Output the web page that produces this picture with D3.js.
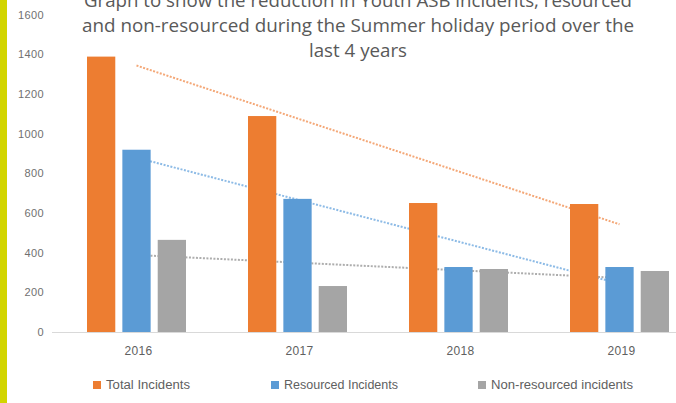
<!DOCTYPE html>
<html><head><meta charset="utf-8">
<script src="https://cdn.jsdelivr.net/npm/d3@7"></script>
<style>body{margin:0;background:#fff;}svg{display:block;}</style>
</head><body>
<svg id="c" width="676" height="403"></svg>
<script>
const years = ["2016", "2017", "2018", "2019"];
const seriesNames = ["Total Incidents", "Resourced Incidents", "Non-resourced incidents"];
const totalIncidents = [1390, 1090, 651, 646];
const resourcedIncidents = [920, 672, 328, 328];
const nonResourcedIncidents = [465, 232, 318, 308];
const yTicks = [0, 200, 400, 600, 800, 1000, 1200, 1400, 1600];
const titleLines = [
  "Graph to show the reduction in Youth ASB incidents, resourced",
  "and non-resourced during the Summer holiday period over the",
  "last 4 years"
];

const colors = ["#ED7D31", "#5B9BD5", "#A5A5A5"];
const trendColors = ["#F4A878", "#8DBBE6", "#ADADAD"];
const series = [totalIncidents, resourcedIncidents, nonResourcedIncidents];

const svg = d3.select("#c");
svg.append("rect").attr("x", 0).attr("y", 0).attr("width", 7).attr("height", 403).attr("fill", "#D2D500");

const y = d3.scaleLinear().domain([0, 1600]).range([332, 15]);
const x0 = d3.scaleBand().domain(years).range([56, 700]).paddingInner(0).paddingOuter(0);
const x1 = d3.scaleBand().domain(d3.range(3)).range([31, x0.bandwidth() - 31]).paddingInner(0.2);

const font = "Liberation Sans, Arial, sans-serif";

// y tick labels
svg.append("g").selectAll("text").data(yTicks).join("text")
  .attr("x", 44).attr("y", d => y(d)).attr("dy", "0.35em")
  .attr("text-anchor", "end").attr("font-family", font)
  .attr("font-size", 11).attr("letter-spacing", 0.4).attr("fill", "#707070").text(d => d);

// axis line
svg.append("line").attr("x1", 52).attr("x2", 676).attr("y1", y(0) + 0.5).attr("y2", y(0) + 0.5)
  .attr("stroke", "#D9D9D9").attr("stroke-width", 1);

// trendlines (linear regression over category index)
series.forEach((vals, si) => {
  const xs = vals.map((_, i) => i + 1);
  const mx = d3.mean(xs), my = d3.mean(vals);
  const slope = d3.sum(xs.map((xv, i) => (xv - mx) * (vals[i] - my))) / d3.sum(xs.map(xv => (xv - mx) ** 2));
  const icpt = my - slope * mx;
  const pts = [1, 4].map(k => [x0(years[k - 1]) + x0.bandwidth() / 2, y(icpt + slope * k)]);
  svg.append("line").attr("x1", pts[0][0]).attr("y1", pts[0][1]).attr("x2", pts[1][0]).attr("y2", pts[1][1])
    .attr("stroke", trendColors[si]).attr("stroke-width", 2).attr("stroke-dasharray", "2,1.5");
});

// bars
const g = svg.append("g");
years.forEach((yr, i) => {
  series.forEach((vals, si) => {
    g.append("rect")
      .attr("x", x0(yr) + x1(si)).attr("width", x1.bandwidth())
      .attr("y", y(vals[i])).attr("height", y(0) - y(vals[i]))
      .attr("fill", colors[si]);
  });
});

// x labels
svg.append("g").selectAll("text").data(years).join("text")
  .attr("x", d => x0(d) + x0.bandwidth() / 2 + 2).attr("y", 355)
  .attr("text-anchor", "middle").attr("font-family", font)
  .attr("font-size", 12).attr("letter-spacing", 0.3).attr("fill", "#606060").text(d => d);

// title
const titleWidths = [548, 552, 98];
svg.append("g").selectAll("text").data(titleLines).join("text")
  .attr("x", 358).attr("y", (d, i) => 7 + i * 25)
  .attr("text-anchor", "middle").attr("font-family", "Open Sans, Noto Sans, sans-serif")
  .attr("font-size", 18).attr("fill", "#595959")
  .attr("textLength", (d, i) => titleWidths[i]).attr("lengthAdjust", "spacingAndGlyphs")
  .text(d => d);

// legend
const legendX = [93, 271, 478];
const legendW = [84, 114, 142];
const lg = svg.append("g");
seriesNames.forEach((n, i) => {
  lg.append("rect").attr("x", legendX[i]).attr("y", 381).attr("width", 8).attr("height", 8).attr("fill", colors[i]);
  lg.append("text").attr("x", legendX[i] + 13).attr("y", 389)
    .attr("font-family", font).attr("font-size", 12)
    .attr("textLength", legendW[i]).attr("lengthAdjust", "spacingAndGlyphs")
    .attr("fill", "#606060").text(n);
});
</script>
</body></html>
